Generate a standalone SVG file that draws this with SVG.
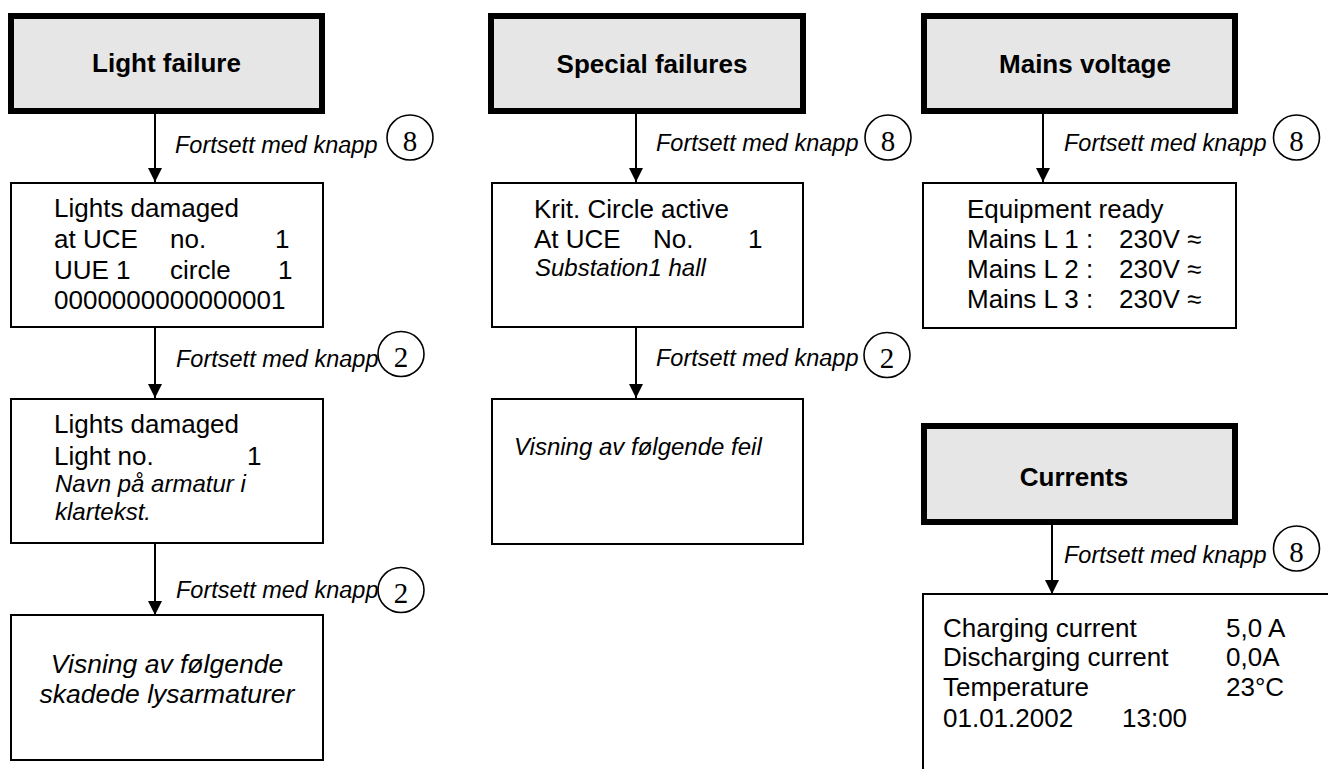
<svg xmlns="http://www.w3.org/2000/svg" width="1328" height="769" viewBox="0 0 1328 769">
<defs>
<style>
.hdr{fill:#e6e6e6;stroke:#000;stroke-width:6}
.box{fill:#fff;stroke:#000;stroke-width:2}
.ht{font-family:"Liberation Sans",Arial,sans-serif;font-weight:bold;font-size:26px;text-anchor:middle;fill:#000}
.t{font-family:"Liberation Sans",Arial,sans-serif;font-size:26px;fill:#000}
.i{font-family:"Liberation Sans",Arial,sans-serif;font-size:24px;font-style:italic;fill:#000}
.il{font-family:"Liberation Sans",Arial,sans-serif;font-size:26.5px;font-style:italic;fill:#000;text-anchor:middle}
.lbl{font-family:"Liberation Sans",Arial,sans-serif;font-size:23.5px;font-style:italic;fill:#000}
.key{fill:#fff;stroke:#000;stroke-width:1.6}
.kt{font-family:"Liberation Serif","Times New Roman",serif;font-size:29px;text-anchor:middle;fill:#000}
.ln{stroke:#000;stroke-width:2;fill:none}
</style>
<marker id="ah" viewBox="0 0 14 15" refX="14" refY="7" markerWidth="14" markerHeight="15" markerUnits="userSpaceOnUse" orient="auto">
<path d="M0,0 L14,7 L0,14 Z" fill="#000"/>
</marker>
</defs>
<rect width="1328" height="769" fill="#fff"/>

<g id="connectors">
<line class="ln" x1="155" y1="114" x2="155" y2="182" marker-end="url(#ah)"/>
<line class="ln" x1="155" y1="327" x2="155" y2="398" marker-end="url(#ah)"/>
<line class="ln" x1="155" y1="543" x2="155" y2="615" marker-end="url(#ah)"/>
<line class="ln" x1="636" y1="114" x2="636" y2="182" marker-end="url(#ah)"/>
<line class="ln" x1="636" y1="327" x2="636" y2="398" marker-end="url(#ah)"/>
<line class="ln" x1="1043" y1="114" x2="1043" y2="182" marker-end="url(#ah)"/>
<line class="ln" x1="1052" y1="525" x2="1052" y2="594" marker-end="url(#ah)"/>

<text class="lbl" x="175" y="153">Fortsett med knapp</text>
<ellipse class="key" cx="410" cy="137.5" rx="23" ry="22.5"/>
<text class="kt" x="410" y="151">8</text>

<text class="lbl" x="176" y="367">Fortsett med knapp</text>
<ellipse class="key" cx="401" cy="354" rx="23" ry="22.5"/>
<text class="kt" x="401" y="367">2</text>

<text class="lbl" x="176" y="598">Fortsett med knapp</text>
<ellipse class="key" cx="401" cy="590" rx="23" ry="22.5"/>
<text class="kt" x="401" y="603">2</text>

<text class="lbl" x="656" y="151">Fortsett med knapp</text>
<ellipse class="key" cx="888" cy="137.5" rx="23" ry="22.5"/>
<text class="kt" x="888" y="151">8</text>

<text class="lbl" x="656" y="366">Fortsett med knapp</text>
<ellipse class="key" cx="887" cy="355" rx="23" ry="22.5"/>
<text class="kt" x="887" y="368">2</text>

<text class="lbl" x="1064" y="151">Fortsett med knapp</text>
<ellipse class="key" cx="1296.5" cy="137.5" rx="23" ry="22.5"/>
<text class="kt" x="1296.5" y="151">8</text>

<text class="lbl" x="1064" y="563">Fortsett med knapp</text>
<ellipse class="key" cx="1296.5" cy="548.5" rx="23" ry="22.5"/>
<text class="kt" x="1296.5" y="562">8</text>
</g>

<g id="light-failure">
<rect class="hdr" x="11" y="16" width="311" height="95"/>
<text class="ht" x="166.5" y="72">Light failure</text>
</g>
<g id="lights-damaged-1">
<rect class="box" x="11" y="183" width="312" height="144"/>
<text class="t" x="54" y="217">Lights damaged</text>
<text class="t" x="54" y="248">at UCE</text><text class="t" x="170" y="248">no.</text><text class="t" x="275" y="248">1</text>
<text class="t" x="54" y="279">UUE 1</text><text class="t" x="170" y="279">circle</text><text class="t" x="278" y="279">1</text>
<text class="t" x="54" y="309">0000000000000001</text>
</g>
<g id="lights-damaged-2">
<rect class="box" x="11" y="399" width="312" height="144"/>
<text class="t" x="54" y="433">Lights damaged</text>
<text class="t" x="54" y="465">Light no.</text><text class="t" x="247" y="465">1</text>
<text class="i" x="55" y="492">Navn på armatur i</text>
<text class="i" x="55" y="520">klartekst.</text>
</g>
<g id="following-lights">
<rect class="box" x="11" y="615" width="312" height="145"/>
<text class="il" x="167" y="673">Visning av følgende</text>
<text class="il" x="167" y="703">skadede lysarmaturer</text>
</g>

<g id="special-failures">
<rect class="hdr" x="491" y="16" width="312" height="95"/>
<text class="ht" x="652" y="73">Special failures</text>
</g>
<g id="krit-circle">
<rect class="box" x="492" y="183" width="311" height="144"/>
<text class="t" x="534" y="218">Krit. Circle active</text>
<text class="t" x="534" y="248">At UCE</text><text class="t" x="653" y="248">No.</text><text class="t" x="748" y="248">1</text>
<text class="i" x="535" y="276">Substation1 hall</text>
</g>
<g id="following-failures">
<rect class="box" x="492" y="399" width="311" height="145"/>
<text class="i" x="514" y="455">Visning av følgende feil</text>
</g>

<g id="mains-voltage">
<rect class="hdr" x="924" y="16" width="311" height="95"/>
<text class="ht" x="1085" y="73">Mains voltage</text>
</g>
<g id="equipment-ready">
<rect class="box" x="923" y="183" width="313" height="145"/>
<text class="t" x="967" y="218">Equipment ready</text>
<text class="t" x="967" y="248">Mains L 1 :</text><text class="t" x="1119" y="248">230V ≈</text>
<text class="t" x="967" y="278">Mains L 2 :</text><text class="t" x="1119" y="278">230V ≈</text>
<text class="t" x="967" y="308">Mains L 3 :</text><text class="t" x="1119" y="308">230V ≈</text>
</g>

<g id="currents">
<rect class="hdr" x="924" y="426" width="311" height="96"/>
<text class="ht" x="1074" y="486">Currents</text>
</g>
<g id="current-values">
<rect class="box" x="923" y="594" width="500" height="300"/>
<text class="t" x="943" y="637">Charging current</text><text class="t" x="1226" y="637">5,0 A</text>
<text class="t" x="943" y="666">Discharging current</text><text class="t" x="1226" y="666">0,0A</text>
<text class="t" x="943" y="696">Temperature</text><text class="t" x="1226" y="696">23°C</text>
<text class="t" x="943" y="727">01.01.2002</text><text class="t" x="1122" y="727">13:00</text>
</g>
</svg>
